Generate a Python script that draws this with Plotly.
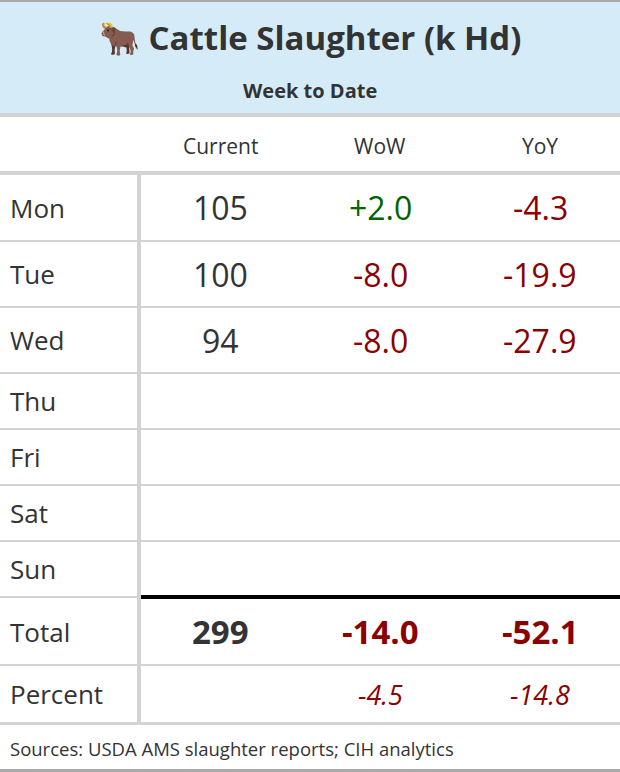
import plotly.graph_objects as go

title = "🐂 Cattle Slaughter (k Hd)"
subtitle = "Week to Date"
columns = ["Current", "WoW", "YoY"]
days = ["Mon", "Tue", "Wed", "Thu", "Fri", "Sat", "Sun"]
current = [105, 100, 94, None, None, None, None]
wow = [2.0, -8.0, -8.0, None, None, None, None]
yoy = [-4.3, -19.9, -27.9, None, None, None, None]
total_current = 299
total_wow = -14.0
total_yoy = -52.1
pct_wow = -4.5
pct_yoy = -14.8
source = "Sources: USDA AMS slaughter reports; CIH analytics"

W, H = 620, 772
FONT = "Open Sans, Noto Sans, sans-serif"
DARK = "#333333"
RED = "#8b0000"
GREEN = "#006400"
GRID = "#d3d3d3"

# row layout in pixels (top, bottom)
day_rows = [(175, 240), (242, 306), (308, 372), (374, 428), (430, 484), (486, 540), (542, 596)]
total_row = (599, 664)
pct_row = (666, 722)
col_x = [220, 380, 540]

fig = go.Figure()
fig.add_trace(go.Scatter(x=[0, W], y=[0, H], mode="markers", marker=dict(opacity=0),
                         hoverinfo="skip", showlegend=False))

shapes = []
def rect(x0, y0, x1, y1, color):
    shapes.append(dict(type="rect", x0=x0, y0=y0, x1=x1, y1=y1, fillcolor=color,
                       line=dict(width=0), layer="below"))

rect(0, 0, W, 2, "#a9a9a9")
rect(0, 2, W, 113, "#d6ebf8")
rect(0, 113, W, 117, GRID)
rect(0, 171, W, 175, GRID)
for top, bot in day_rows[:-1]:
    rect(0, bot, W, bot + 2, GRID)
rect(0, 596, 138, 598, GRID)
rect(138, 595, W, 599, "black")
rect(0, 664, W, 666, GRID)
rect(0, 722, W, 725, GRID)
rect(0, 769, W, 772, "#a9a9a9")
rect(137, 175, 141, 722, GRID)

ann = []
def txt(x, y, s, size, color=DARK, anchor="center", bold=False, italic=False):
    if s is None:
        return
    if bold:
        s = "<b>%s</b>" % s
    if italic:
        s = "<i>%s</i>" % s
    ann.append(dict(x=x, y=y, text=s, showarrow=False, xanchor=anchor, yanchor="middle",
                    font=dict(family=FONT, size=size, color=color)))

def fmt(v):
    return None if v is None else "%+.1f" % v

def col(v):
    return GREEN if v is not None and v > 0 else RED

txt(W / 2, 37, title, 33, bold=True)
txt(W / 2, 90, subtitle, 20, bold=True)
for c, x in zip(columns, col_x):
    txt(x, 146, c, 21)
for i, d in enumerate(days):
    top, bot = day_rows[i]
    yc = (top + bot) / 2
    txt(8, yc, d, 26, anchor="left")
    txt(col_x[0], yc, None if current[i] is None else str(current[i]), 32)
    txt(col_x[1], yc, fmt(wow[i]), 32, col(wow[i]))
    txt(col_x[2], yc, fmt(yoy[i]), 32, col(yoy[i]))

yc = sum(total_row) / 2
txt(8, yc, "Total", 26, anchor="left")
txt(col_x[0], yc, str(total_current), 33, bold=True)
txt(col_x[1], yc, fmt(total_wow), 33, col(total_wow), bold=True)
txt(col_x[2], yc, fmt(total_yoy), 33, col(total_yoy), bold=True)

yc = sum(pct_row) / 2
txt(8, yc, "Percent", 26, anchor="left")
txt(col_x[1], yc, fmt(pct_wow), 27, col(pct_wow), italic=True)
txt(col_x[2], yc, fmt(pct_yoy), 27, col(pct_yoy), italic=True)

txt(8, 748, source, 18.5, anchor="left")

fig.update_layout(
    width=W, height=H, margin=dict(l=0, r=0, t=0, b=0),
    paper_bgcolor="white", plot_bgcolor="white",
    xaxis=dict(range=[0, W], visible=False, fixedrange=True),
    yaxis=dict(range=[H, 0], visible=False, fixedrange=True),
    shapes=shapes, annotations=ann,
)
fig.write_html("out.html", config={"displayModeBar": False},
               post_script="document.body.style.margin='0';")
